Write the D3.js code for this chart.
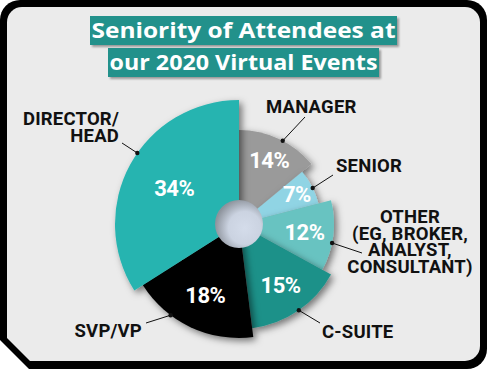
<!DOCTYPE html>
<html><head><meta charset="utf-8">
<script src="https://cdn.jsdelivr.net/npm/d3@7"></script>
<style>html,body{margin:0;padding:0;background:#fff;}svg{display:block;}</style>
</head><body>
<svg id="chart" width="488" height="369"></svg>
<script>
// ---- data ----
const titleLines = ["Seniority of Attendees at", "our 2020 Virtual Events"];
const categories = ["MANAGER", "SENIOR", "OTHER", "C-SUITE", "SVP/VP", "DIRECTOR/HEAD"];
const values = [14, 7, 12, 15, 18, 34];
const pctLabels = ["14%", "7%", "12%", "15%", "18%", "34%"];
const labelLines = [["MANAGER"], ["SENIOR"], ["OTHER", "(EG, BROKER,", "ANALYST,", "CONSULTANT)"], ["C-SUITE"], ["SVP/VP"], ["DIRECTOR/", "HEAD"]];

// ---- layout / style ----
const colors = ["#9a9a9a", "#8ed3e3", "#68c3c1", "#1f9189", "#000000", "#28b4b0"];
const outerR = [94, 82, 95, 105, 114, 124];
const pctR = [71, 65, 66, 74, 79, 74];
const dotT = [0.55, 0.54, 0.6, 0.49, 0.68, 0.55];
const leaderEnd = [[66, -107], [94, -49], [123, 29], [81, 99], [-93, 99], [-117, -81]];
const labelPos = [[27, -111, "start"], [97, -52, "start"], [171, -1, "middle"], [83, 114, "start"], [-97, 113, "end"], [-120, -99, "end"]];
const cx = 239, cy = 224, holeR = 24;

const svg = d3.select("#chart");
const defs = svg.append("defs");
const sh = defs.append("filter").attr("id", "sh").attr("x", "-30%").attr("y", "-30%").attr("width", "160%").attr("height", "160%");
sh.append("feDropShadow").attr("dx", 3).attr("dy", 3).attr("stdDeviation", 3.5).attr("flood-color", "#000").attr("flood-opacity", 0.5);
const tsh = defs.append("filter").attr("id", "tsh").attr("x", "-10%").attr("y", "-30%").attr("width", "120%").attr("height", "160%");
tsh.append("feDropShadow").attr("dx", 2).attr("dy", 2).attr("stdDeviation", 1.2).attr("flood-color", "#000").attr("flood-opacity", 0.35);
const hg = defs.append("radialGradient").attr("id", "hole").attr("cx", "62%").attr("cy", "58%").attr("r", "62%");
hg.append("stop").attr("offset", "0%").attr("stop-color", "#d4dcea");
hg.append("stop").attr("offset", "55%").attr("stop-color", "#cbd3e1");
hg.append("stop").attr("offset", "100%").attr("stop-color", "#8d939c");
const sg = defs.append("radialGradient").attr("id", "senior").attr("gradientUnits", "userSpaceOnUse")
  .attr("cx", cx).attr("cy", cy).attr("r", outerR[1]);
sg.append("stop").attr("offset", "25%").attr("stop-color", "#4f8c9c");
sg.append("stop").attr("offset", "75%").attr("stop-color", "#7fc3d4");
sg.append("stop").attr("offset", "100%").attr("stop-color", "#90d4e4");

// card
svg.append("path").attr("fill", "#000")
  .attr("d", "M0,20 A20,20 0 0 1 20,0 H467 A20,20 0 0 1 487,20 V349 A20,20 0 0 1 467,369 H29 L0,340 Z");
svg.append("path").attr("fill", "#ebebeb")
  .attr("d", "M7,22 A15,15 0 0 1 22,7 H465 A15,15 0 0 1 480,22 V346 A15,15 0 0 1 465,361 H30 L7,338 Z");

// title
const titleBoxes = [[90, 16, 307, 29], [108, 48, 271, 29]];
const titleBase = [37.5, 70];
const titleW = [304, 268];
titleLines.forEach((t, i) => {
  const b = titleBoxes[i];
  svg.append("rect").attr("x", b[0]).attr("y", b[1]).attr("width", b[2]).attr("height", b[3])
    .attr("fill", "#21918b").attr("filter", "url(#tsh)");
  svg.append("text").attr("x", b[0] + b[2] / 2).attr("y", titleBase[i]).attr("text-anchor", "middle")
    .attr("fill", "#fff").attr("font-family", "'Open Sans', sans-serif").attr("font-weight", 700)
    .attr("font-size", 22).attr("textLength", titleW[i]).attr("lengthAdjust", "spacingAndGlyphs").text(t);
});

// pie
const pie = d3.pie().sort(null).value(d => d.v).startAngle(0).endAngle(2 * Math.PI);
const data = pie(values.map((v, i) => ({v, i})));
const arc = d3.arc().innerRadius(0).outerRadius(d => outerR[d.data.i]);
const g = svg.append("g").attr("transform", `translate(${cx},${cy})`);
g.selectAll("path.slice").data(data).join("path").attr("class", "slice")
  .attr("d", arc)
  .attr("fill", d => d.data.i === 1 ? "url(#senior)" : colors[d.data.i])
  .attr("filter", "url(#sh)");

g.append("circle").attr("r", holeR).attr("fill", "url(#hole)");

const polar = (r, a) => [r * Math.sin(a), -r * Math.cos(a)];

// percent labels
g.selectAll("text.pct").data(data).join("text").attr("class", "pct")
  .attr("transform", d => { const p = polar(pctR[d.data.i], (d.startAngle + d.endAngle) / 2); return `translate(${p[0]},${p[1]})`; })
  .attr("text-anchor", "middle").attr("dy", "0.36em")
  .attr("fill", "#fff").attr("font-family", "Roboto, sans-serif").attr("font-weight", 700)
  .attr("font-size", 22).attr("letter-spacing", -0.5)
  .text(d => pctLabels[d.data.i]);

// leaders
data.forEach(d => {
  const i = d.data.i;
  const a = d.startAngle + dotT[i] * (d.endAngle - d.startAngle);
  const p = polar(outerR[i], a);
  g.append("line").attr("x1", p[0]).attr("y1", p[1]).attr("x2", leaderEnd[i][0]).attr("y2", leaderEnd[i][1])
    .attr("stroke", "#111").attr("stroke-width", 1);
  g.append("circle").attr("cx", p[0]).attr("cy", p[1]).attr("r", 2.2).attr("fill", "#111");
  const lp = labelPos[i];
  const t = g.append("text").attr("x", lp[0]).attr("y", lp[1]).attr("text-anchor", lp[2])
    .attr("fill", "#111").attr("font-family", "Roboto, sans-serif").attr("font-weight", 700)
    .attr("font-size", 18.5).attr("letter-spacing", 0.2);
  labelLines[i].forEach((ln, k) => {
    t.append("tspan").attr("x", lp[0]).attr("y", lp[1] + k * (i === 5 ? 17 : 16.5)).text(ln);
  });
});
</script>
</body></html>
